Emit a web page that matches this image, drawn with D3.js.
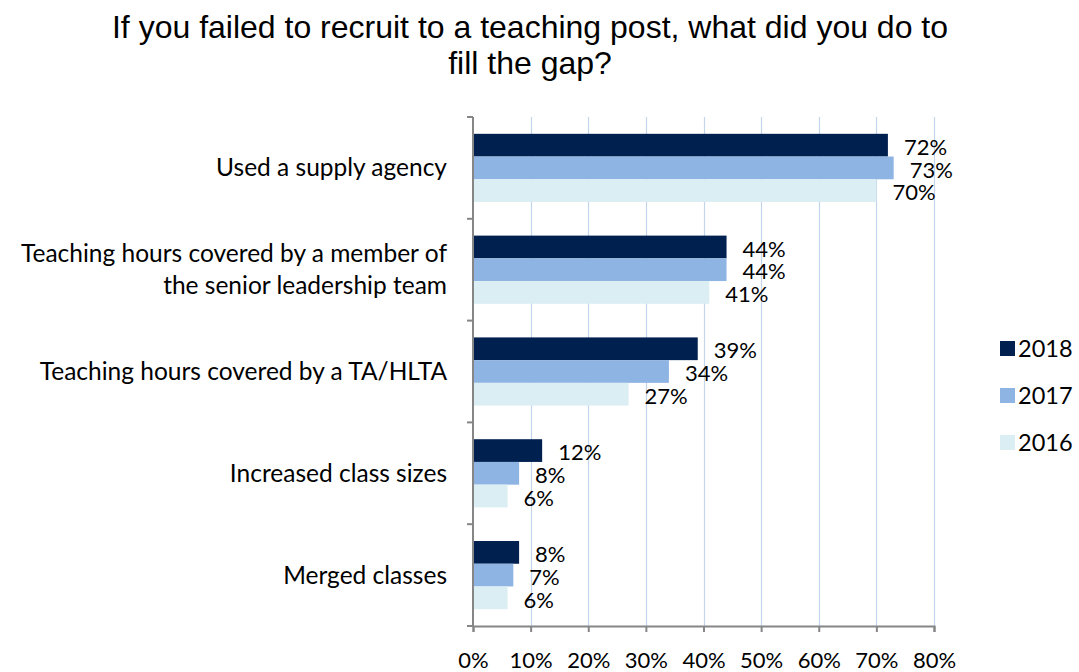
<!DOCTYPE html>
<html>
<head>
<meta charset="utf-8">
<script src="https://cdn.jsdelivr.net/npm/d3@7"></script>
<style>
  html, body { margin: 0; padding: 0; background: #fff; }
  svg { display: block; }
</style>
</head>
<body>
<svg id="chart" width="1079" height="672"></svg>
<script>
// Responses by category, one array per survey year
const categories = [
  ["Used a supply agency"],
  ["Teaching hours covered by a member of", "the senior leadership team"],
  ["Teaching hours covered by a TA/HLTA"],
  ["Increased class sizes"],
  ["Merged classes"]
];
const years = ["2018", "2017", "2016"];
const values2018 = [72, 44, 39, 12, 8];
const values2017 = [73, 44, 34, 8, 7];
const values2016 = [70, 41, 27, 6, 6];
const xTicks = [0, 10, 20, 30, 40, 50, 60, 70, 80];
const titleLines = ["If you failed to recruit to a teaching post, what did you do to", "fill the gap?"];

const colors = { "2018": "#00204f", "2017": "#8eb4e3", "2016": "#dbeef3" };
const seriesByYear = { "2018": values2018, "2017": values2017, "2016": values2016 };

const svg = d3.select("#chart");
const uiFont = "Lato, 'Open Sans', sans-serif";

const plot = { left: 473, right: 934, top: 117, bottom: 626 };

const x = d3.scaleLinear().domain([0, 80]).range([plot.left, plot.right]);
const y0 = d3.scaleBand().domain(d3.range(categories.length)).range([plot.top, plot.bottom]).padding(0);
const y1 = d3.scaleBand().domain(years).range([0, y0.bandwidth()]).paddingInner(0).paddingOuter(0.74);

// Title
svg.append("g").selectAll("text").data(titleLines).join("text")
  .attr("x", 530)
  .attr("y", (d, i) => 38 + i * 36)
  .attr("text-anchor", "middle")
  .attr("font-family", "'Liberation Sans', Arial, sans-serif")
  .attr("font-size", 32)
  .attr("fill", "#000")
  .text(d => d);

// Vertical gridlines
svg.append("g").selectAll("line").data(xTicks.filter(t => t > 0)).join("line")
  .attr("x1", d => Math.round(x(d)) + 0.5)
  .attr("x2", d => Math.round(x(d)) + 0.5)
  .attr("y1", plot.top)
  .attr("y2", plot.bottom)
  .attr("stroke", "#c3d5ec")
  .attr("stroke-width", 1.2);

// Bars
const rows = categories.map((c, i) => ({ i, bars: years.map(yr => ({ yr, v: seriesByYear[yr][i] })) }));
const groups = svg.append("g").selectAll("g").data(rows).join("g")
  .attr("transform", d => `translate(0,${y0(d.i)})`);

groups.selectAll("rect").data(d => d.bars).join("rect")
  .attr("x", x(0))
  .attr("y", d => y1(d.yr))
  .attr("width", d => x(d.v) - x(0))
  .attr("height", y1.bandwidth())
  .attr("fill", d => colors[d.yr]);

// Value labels
groups.selectAll("text").data(d => d.bars).join("text")
  .attr("x", d => x(d.v) + 16)
  .attr("y", d => y1(d.yr) + y1.bandwidth() / 2 + 2)
  .attr("dy", "0.35em")
  .attr("font-family", uiFont)
  .attr("font-size", 22)
  .attr("fill", "#000")
  .text(d => d3.format(".0%")(d.v / 100));

// Category axis
const yAxis = svg.append("g").attr("transform", `translate(${plot.left},0)`);
yAxis.append("line")
  .attr("x1", 0).attr("x2", 0)
  .attr("y1", plot.top).attr("y2", plot.bottom)
  .attr("stroke", "#868686").attr("stroke-width", 2);
yAxis.selectAll("line.tick").data(d3.range(categories.length + 1)).join("line")
  .attr("class", "tick")
  .attr("x1", -6).attr("x2", 0)
  .attr("y1", d => plot.top + d * y0.step())
  .attr("y2", d => plot.top + d * y0.step())
  .attr("stroke", "#868686").attr("stroke-width", 2);

const catLabels = svg.append("g").selectAll("text").data(categories).join("text")
  .attr("text-anchor", "end")
  .attr("font-family", uiFont)
  .attr("font-size", 24.5)
  .attr("fill", "#000");
catLabels.each(function (lines, i) {
  const cy = y0(i) + y0.bandwidth() / 2;
  const lh = 32;
  d3.select(this).selectAll("tspan").data(lines).join("tspan")
    .attr("x", 447)
    .attr("y", (d, j) => cy + (j - (lines.length - 1) / 2) * lh)
    .attr("dy", "0.35em")
    .text(d => d);
});

// Value axis
const xAxis = svg.append("g").attr("transform", `translate(0,${plot.bottom})`)
  .call(d3.axisBottom(x).tickValues(xTicks).tickSize(6).tickPadding(20).tickFormat(d => d + "%"));
xAxis.select(".domain").attr("stroke", "#868686").attr("stroke-width", 2);
xAxis.selectAll(".tick line").attr("stroke", "#868686").attr("stroke-width", 2);
xAxis.selectAll(".tick text")
  .attr("font-family", uiFont)
  .attr("font-size", 22)
  .attr("fill", "#000");

// Legend
const legend = svg.append("g").selectAll("g").data(years).join("g")
  .attr("transform", (d, i) => `translate(1000,${341 + i * 47})`);
legend.append("rect")
  .attr("width", 15).attr("height", 15)
  .attr("fill", d => colors[d]);
legend.append("text")
  .attr("x", 18).attr("y", 8)
  .attr("dy", "0.35em")
  .attr("font-family", uiFont)
  .attr("font-size", 23.5)
  .attr("fill", "#000")
  .text(d => d);
</script>
</body>
</html>
